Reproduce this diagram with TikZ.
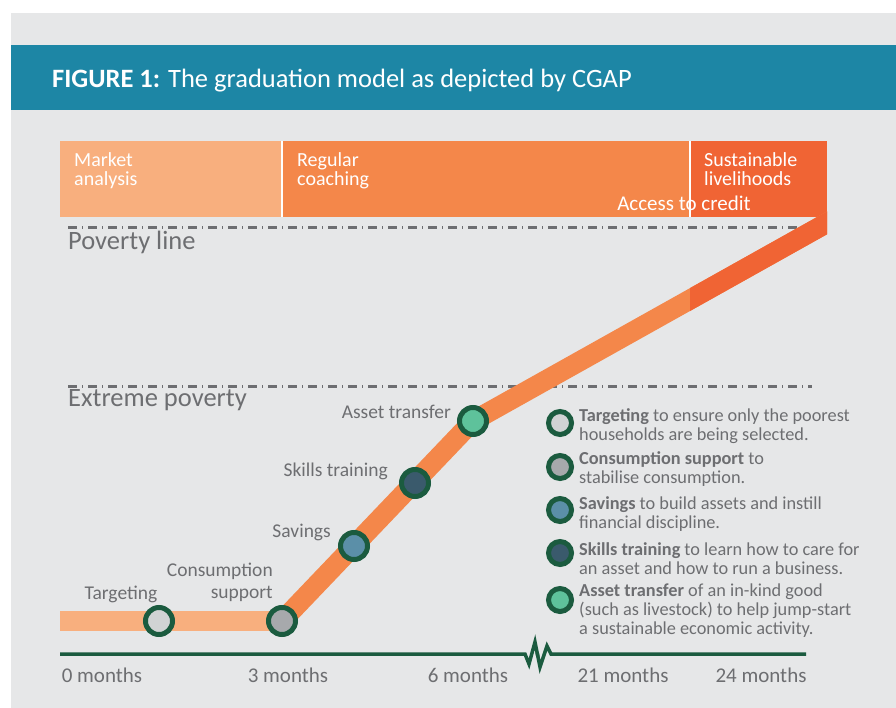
\documentclass[tikz,border=0pt]{standalone}
\usepackage{fontspec}
\setmainfont{Carlito}
\usetikzlibrary{positioning}

\definecolor{panelgrey}{HTML}{E6E7E8}
\definecolor{bandteal}{HTML}{1D86A5}
\definecolor{orangelight}{HTML}{F8AF7E}
\definecolor{orangemid}{HTML}{F4874A}
\definecolor{orangedark}{HTML}{F06434}
\definecolor{textgrey}{HTML}{6D6E71}
\definecolor{ringgreen}{HTML}{1B5B3F}
\definecolor{dotlight}{HTML}{D1D3D4}
\definecolor{dotgrey}{HTML}{A7A9AC}
\definecolor{dotblue}{HTML}{5B8FA8}
\definecolor{dotnavy}{HTML}{3A5A6C}
\definecolor{dotgreen}{HTML}{5EC29B}

\tikzset{
  stage/.style={circle, draw=ringgreen, line width=5pt, minimum size=27pt, inner sep=0pt},
  keydot/.style={circle, draw=ringgreen, line width=5pt, minimum size=23pt, inner sep=0pt},
  steplabel/.style={text=textgrey, inner sep=0pt, font=\fontsize{19.5}{22}\selectfont},
  keytext/.style={text=textgrey, inner sep=0pt, anchor=north west, align=left,
    font=\fontsize{18.3}{19}\selectfont},
  phase/.style={text=white, inner sep=0pt, anchor=north west, align=left,
    font=\fontsize{20}{19}\selectfont},
  limitline/.style={textgrey, line width=3pt, dash pattern=on 9pt off 5pt on 1pt off 5pt},
  monthlabel/.style={text=textgrey, inner sep=0pt, anchor=base, font=\fontsize{21}{24}\selectfont}
}

\begin{document}
\begin{tikzpicture}[x=1pt, y=-1pt]
  \useasboundingbox (0,0) rectangle (896,708);
  \fill[white] (0,0) rectangle (896,708);
  \fill[panelgrey] (11,13) rectangle (896,708);
  \fill[bandteal] (11,45) rectangle (896,110);
  \node[anchor=base west, text=white, inner sep=0pt, font=\fontsize{26.5}{30}\selectfont]
    (title) at (52,88) {\textbf{FIGURE 1:} The graduation model as depicted by CGAP};

  % phases
  \fill[orangelight] (60,141) rectangle (282,217);
  \fill[orangemid] (282,141) rectangle (690,217);
  \fill[orangedark] (690,141) rectangle (827,217);
  \draw[white, line width=2pt] (282,141) -- (282,217);
  \draw[white, line width=2pt] (690,141) -- (690,217);
  \node[phase] (market) at (74,152) {Market\\analysis};
  \node[phase] (coach) at (297,152) {Regular\\coaching};
  \node[phase] (susta) at (704,152) {Sustainable\\livelihoods};
  \node[text=white, inner sep=0pt, font=\fontsize{21}{23}\selectfont] (credit) at (684,203) {Access to credit};

  % thresholds
  \draw[limitline] (68,228) -- (812,228);
  \draw[limitline] (68,386) -- (812,386);
  \node[text=textgrey, inner sep=0pt, anchor=west, font=\fontsize{26.5}{28}\selectfont] (povl) at (68,242) {Poverty line};
  \node[text=textgrey, inner sep=0pt, anchor=west, font=\fontsize{26.5}{28}\selectfont] (xpov) at (68,400) {Extreme poverty};

  % path of a household
  \coordinate (p0) at (60,621);
  \coordinate (p1) at (159,621);
  \coordinate (p2) at (282,621);
  \coordinate (p3) at (354,546);
  \coordinate (p4) at (415,483);
  \coordinate (p5) at (473,421);
  \coordinate (p6) at (850,210);
  \draw[orangelight, line width=20pt] (p0) -- (p2);
  \begin{scope}
    \clip (200,100) rectangle (827,700);
    \draw[orangemid, line width=20pt, line join=round] (p2) -- (p5) -- (p6);
    \clip (690,100) rectangle (827,700);
    \draw[orangedark, line width=20pt] (p5) -- (p6);
  \end{scope}

  \node[stage, fill=dotlight] (targ) at (p1) {};
  \node[stage, fill=dotgrey] (cons) at (p2) {};
  \node[stage, fill=dotblue] (sav) at (p3) {};
  \node[stage, fill=dotnavy] (skill) at (p4) {};
  \node[stage, fill=dotgreen] (asset) at (p5) {};

  \node[steplabel, anchor=base] (ltarg) at (121,599) {Targeting};
  \node[steplabel, anchor=north east, align=right] (lcons) at (273,563) {Consumption\\support};
  \node[steplabel, anchor=base east] (lsav) at (331,537) {Savings};
  \node[steplabel, anchor=base east] (lskill) at (388,476) {Skills training};
  \node[steplabel, anchor=base east] (lasset) at (451,418) {Asset transfer};

  % key
  \node[keydot, fill=dotlight] (k1) at (560,423) {};
  \node[keydot, fill=dotgrey] (k2) at (560,467) {};
  \node[keydot, fill=dotblue] (k3) at (560,510) {};
  \node[keydot, fill=dotnavy] (k4) at (560,553) {};
  \node[keydot, fill=dotgreen] (k5) at (560,600) {};
  \node[keytext] (t1) at (579,408) {\textbf{Targeting} to ensure only the poorest\\households are being selected.};
  \node[keytext] (t2) at (579,451) {\textbf{Consumption support} to\\stabilise consumption.};
  \node[keytext] (t3) at (579,496) {\textbf{Savings} to build assets and instill\\financial discipline.};
  \node[keytext] (t4) at (579,542) {\textbf{Skills training} to learn how to care for\\an asset and how to run a business.};
  \node[keytext] (t5) at (579,584) {\textbf{Asset transfer} of an in-kind good\\(such as livestock) to help jump-start\\a sustainable economic activity.};

  % time axis with break
  \coordinate (a0) at (60,654);
  \coordinate (a1) at (806,654);
  \draw[ringgreen, line width=3.5pt, line join=miter, miter limit=20]
    (a0) -- (525,654) -- (529,664) -- (535,642) -- (538,657);
  \draw[ringgreen, line width=3.5pt, line join=miter, miter limit=20]
    (537,652) -- (540,667) -- (547,646) -- (551,654) -- (a1);
  \node[monthlabel] (m0) at (102,682) {0 months};
  \node[monthlabel] (m3) at (288,682) {3 months};
  \node[monthlabel] (m6) at (468,682) {6 months};
  \node[monthlabel] (m21) at (623,682) {21 months};
  \node[monthlabel] (m24) at (761,682) {24 months};
\end{tikzpicture}
\end{document}
